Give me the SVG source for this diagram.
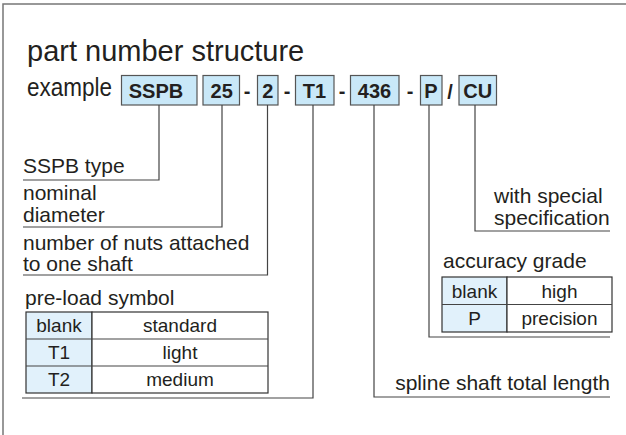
<svg xmlns="http://www.w3.org/2000/svg" width="626" height="435" viewBox="0 0 626 435">
<style>
.t{font-family:"Liberation Sans",Arial,Helvetica,sans-serif;fill:#231f20}
.lbl{font-size:21px}
.cell{font-size:19px;text-anchor:middle}
.code{font-size:20px;font-weight:bold;text-anchor:middle}
.box{fill:#c9e8f8;stroke:#555;stroke-width:1.2}
.hd{fill:#e1f1fb;stroke:#333;stroke-width:1.2}
.bd{fill:#fff;stroke:#333;stroke-width:1.2}
.ln{stroke:#444;stroke-width:1.2;fill:none}
.frame{stroke:#777;stroke-width:1.5;fill:none}
</style>
<rect width="626" height="435" fill="#fff"/>
<path class="frame" d="M3,435 V4 H626"/>
<text class="t" x="27" y="61" font-size="29">part number structure</text>
<text class="t" x="27" y="96" font-size="25" textLength="85" lengthAdjust="spacingAndGlyphs">example</text>
<g id="code-sspb"><rect class="box" x="121.5" y="75.5" width="75.5" height="29.5"/><text class="t code" x="156" y="97.5">SSPB</text></g>
<g id="code-25"><rect class="box" x="203" y="75.5" width="36.5" height="29.5"/><text class="t code" x="221.7" y="97.5">25</text></g>
<text class="t code" x="247" y="97.5">-</text>
<g id="code-2"><rect class="box" x="257.5" y="75.5" width="20.5" height="29.5"/><text class="t code" x="267.7" y="97.5">2</text></g>
<text class="t code" x="287" y="97.5">-</text>
<g id="code-t1"><rect class="box" x="295.5" y="75.5" width="38.5" height="29.5"/><text class="t code" x="314.5" y="97.5">T1</text></g>
<text class="t code" x="342" y="97.5">-</text>
<g id="code-436"><rect class="box" x="350.5" y="75.5" width="48.5" height="29.5"/><text class="t code" x="374.5" y="97.5">436</text></g>
<text class="t code" x="410" y="97.5">-</text>
<g id="code-p"><rect class="box" x="420.5" y="75.5" width="21.5" height="29.5"/><text class="t code" x="431" y="97.5">P</text></g>
<text class="t code" x="450" y="99" font-size="26">/</text>
<g id="code-cu"><rect class="box" x="459" y="75.5" width="37.5" height="29.5"/><text class="t code" x="477.7" y="97.5">CU</text></g>
<g id="connectors">
<path class="ln" d="M159,105 V180 H23"/>
<path class="ln" d="M222,105 V227 H23"/>
<path class="ln" d="M267.5,105 V275 H23"/>
<path class="ln" d="M313,105 V398 H22"/>
<path class="ln" d="M374,105 V397 H610"/>
<path class="ln" d="M429,105 V337 H610"/>
<path class="ln" d="M475,105 V231 H610"/>
</g>
<g id="label-type"><text class="t lbl" x="23" y="173">SSPB type</text></g>
<g id="label-diameter"><text class="t lbl" x="23" y="200">nominal</text><text class="t lbl" x="23" y="222">diameter</text></g>
<g id="label-nuts"><text class="t lbl" x="23" y="250">number of nuts attached</text><text class="t lbl" x="23" y="271">to one shaft</text></g>
<g id="label-preload">
<text class="t lbl" x="25" y="305">pre-load symbol</text>
<rect class="hd" x="26" y="312" width="66" height="81"/>
<rect class="bd" x="92" y="312" width="176" height="81"/>
<path class="ln" d="M26,339 H268 M26,366 H268" stroke="#333"/>
<text class="t cell" x="59" y="332">blank</text><text class="t cell" x="180" y="332">standard</text>
<text class="t cell" x="59" y="359">T1</text><text class="t cell" x="180" y="359">light</text>
<text class="t cell" x="59" y="386">T2</text><text class="t cell" x="180" y="386">medium</text>
</g>
<g id="label-special"><text class="t lbl" x="494" y="203">with special</text><text class="t lbl" x="494" y="225">specification</text></g>
<g id="label-accuracy">
<text class="t lbl" x="443" y="268">accuracy grade</text>
<rect class="hd" x="442" y="277" width="65" height="55"/>
<rect class="bd" x="507" y="277" width="105" height="55"/>
<path class="ln" d="M442,304.5 H612"/>
<text class="t cell" x="474.5" y="297.5">blank</text><text class="t cell" x="559.5" y="297.5">high</text>
<text class="t cell" x="474.5" y="325">P</text><text class="t cell" x="559.5" y="325">precision</text>
</g>
<g id="label-length"><text class="t lbl" x="610" y="390" text-anchor="end">spline shaft total length</text></g>
</svg>
